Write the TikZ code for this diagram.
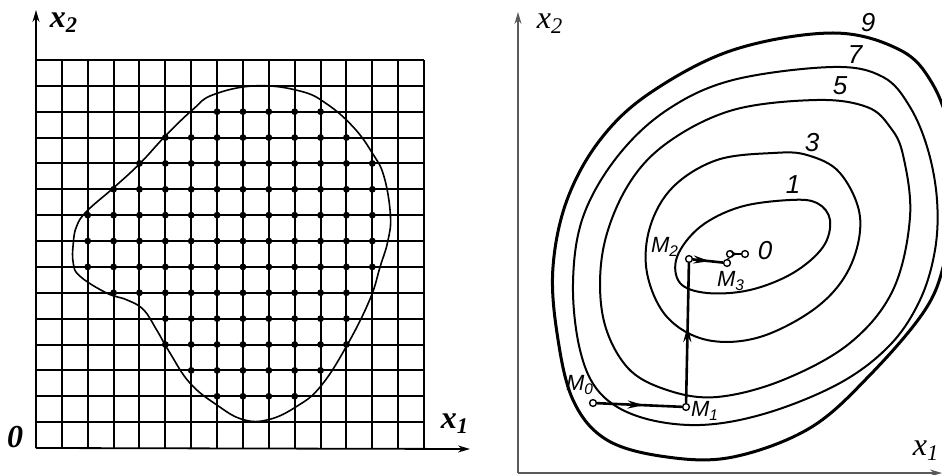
\documentclass[tikz,border=0pt]{standalone}
\usepackage{fontspec}
\setmainfont{Liberation Serif}
\newfontfamily\gostfont{Liberation Sans}
\usetikzlibrary{arrows.meta, decorations.markings}
\definecolor{axisgray}{HTML}{5A5A5A}

\begin{document}
\begin{tikzpicture}[
    x=0.5pt, y=-0.5pt,
    every node/.style={inner sep=0pt},
    gridline/.style={line width=1pt},
    axis/.style={line width=0.9pt, -{Stealth[length=6pt,width=3.5pt]}},
    thinaxis/.style={line width=0.6pt, color=axisgray, -{Stealth[length=6pt,width=3.5pt]}},
    level/.style={line width=1pt},
    outerlevel/.style={line width=1.5pt},
    boldlabel/.style={font=\fontsize{16}{18}\selectfont\bfseries\itshape},
    axlabel/.style={font=\fontsize{16}{18}\selectfont\itshape},
    levlabel/.style={font=\fontsize{13}{15}\selectfont\gostfont\itshape},
    mlabel/.style={font=\fontsize{11}{13}\selectfont\gostfont\itshape},
    probe/.style={circle, draw, fill=white, line width=0.7pt, minimum size=3.4pt, inner sep=0pt},
    searchpath/.style={line width=1.3pt, postaction={decorate},
        decoration={markings, mark=at position 0.55 with {\arrow{Stealth[length=8pt,width=4pt]}}}},
    shortpath/.style={line width=1pt, postaction={decorate},
        decoration={markings, mark=at position 0.6 with {\arrow{Stealth[length=4pt,width=3pt]}}}}
]
\useasboundingbox (0,0) rectangle (942,475);

% left panel
\coordinate (orgA) at (36,448);
\coordinate (topA) at (36,10);
\coordinate (endA) at (470,449);

\begin{scope}[shift={(36,448)}, x=12.935pt, y=12.935pt]
    \foreach \k in {1,...,15} {
        \draw[gridline] (\k,0) -- (\k,15);
        \draw[gridline] (0,\k) -- (15,\k);
    }
    \draw[line width=0.8pt] plot[smooth cycle, tension=0.7] coordinates {
        (8.5,14.0) (10.2,13.8) (11.24,13.3) (12.27,12.4) (13.0,11.4)
        (13.45,10.5) (13.7,9.0) (13.6,8.0) (13.3,7.0) (12.9,5.73)
        (12.0,3.93) (11.0,2.38) (10.08,1.61) (9.0,1.1) (8.0,1.1)
        (6.98,1.67) (5.95,2.51) (5.18,3.67) (4.66,4.57) (4.15,5.35)
        (3.5,5.73) (2.73,5.99) (1.70,6.64) (1.44,7.15) (1.44,7.9)
        (1.57,8.57) (1.96,9.15) (2.99,10.05) (4.02,11.0) (4.99,12.05)
        (6.08,13.1) (6.86,13.66)};
    \foreach \r/\a/\b in {13/7/11, 12/5/12, 11/4/13, 10/3/13, 9/2/13, 8/2/13,
                          7/2/13, 6/3/12, 5/5/12, 4/5/12, 3/6/11, 2/7/10} {
        \foreach \c in {\a,...,\b} {
            \fill (\c,\r) circle[radius=1.7pt];
        }
    }
\end{scope}

\draw[axis] (orgA) -- (topA);
\draw[axis] (orgA) -- (endA);

\node[boldlabel] (x2A) at (64,23) {x\textsubscript{2}};
\node[boldlabel] (x1A) at (455,424) {x\textsubscript{1}};
\node[boldlabel] (zeroA) at (15,437) {0};

% right panel
\coordinate (orgB) at (518,473);
\coordinate (topB) at (518,12);
\coordinate (endB) at (942,473);
\draw[thinaxis] (orgB) -- (topB);
\draw[thinaxis] (orgB) -- (endB);

\node[axlabel] (x2B) at (550,24) {x\textsubscript{2}};
\node[axlabel] (x1B) at (926,451) {x\textsubscript{1}};

\begin{scope}
    \clip (500,0) rectangle (942,475);
    \draw[outerlevel] plot[smooth cycle, tension=0.6] coordinates {
        (833,33) (900,50) (932,83) (950,133) (955,200) (945,260) (925,310)
        (870,375) (810,428) (733,457) (667,457) (607,440) (573,400)
        (557,333) (553,267) (567,200) (600,140) (650,93) (733,50)};
    \draw[level] plot[smooth cycle, tension=0.6] coordinates {
        (833,67) (883,77) (910,107) (928,150) (937,200) (935,250) (920,300)
        (890,345) (840,383) (767,413) (700,425) (640,417) (600,393)
        (580,350) (573,283) (583,217) (617,157) (667,110) (733,80)};
    \draw[level] plot[smooth cycle, tension=0.6] coordinates {
        (817,100) (867,107) (890,127) (903,155) (910,217) (893,290)
        (850,343) (783,380) (717,397) (667,390) (627,367) (603,317)
        (603,250) (627,187) (667,143) (733,110)};
    \draw[level] plot[smooth cycle, tension=0.6] coordinates {
        (773,153) (807,155) (840,173) (860,217) (850,267) (817,307)
        (760,337) (707,340) (667,317) (647,273) (650,227) (673,187) (717,160)};
    \draw[level] plot[smooth cycle, tension=0.6] coordinates {
        (790,200) (817,203) (830,220) (823,247) (793,273) (750,290)
        (707,293) (680,283) (677,257) (700,227) (740,207)};
\end{scope}

\node[levlabel] (lev9) at (868,23) {9};
\node[levlabel] (lev7) at (855,55) {7};
\node[levlabel] (lev5) at (840,86) {5};
\node[levlabel] (lev3) at (812,143) {3};
\node[levlabel] (lev1) at (793,185) {1};
\node[levlabel] (levO) at (765,251) {0};

\node[probe] (M0) at (593,403) {};
\node[probe] (M1) at (686,407) {};
\node[probe] (M2) at (689,259) {};
\node[probe] (M3) at (727,263) {};
\node[probe] (M4) at (730,254) {};
\node[probe] (Opt) at (745,254) {};

\draw[searchpath] (M0) -- (M1);
\draw[searchpath] (M1) -- (M2);
\draw[searchpath] (M2) -- (M3);
\draw[line width=1pt] (M3) -- (M4);
\draw[shortpath] (M4) -- (Opt);

\node[mlabel] (lM0) at (580,385) {M\textsubscript{0}};
\node[mlabel] (lM1) at (705,411) {M\textsubscript{1}};
\node[mlabel] (lM2) at (665,247) {M\textsubscript{2}};
\node[mlabel] (lM3) at (731,281) {M\textsubscript{3}};
\end{tikzpicture}
\end{document}
